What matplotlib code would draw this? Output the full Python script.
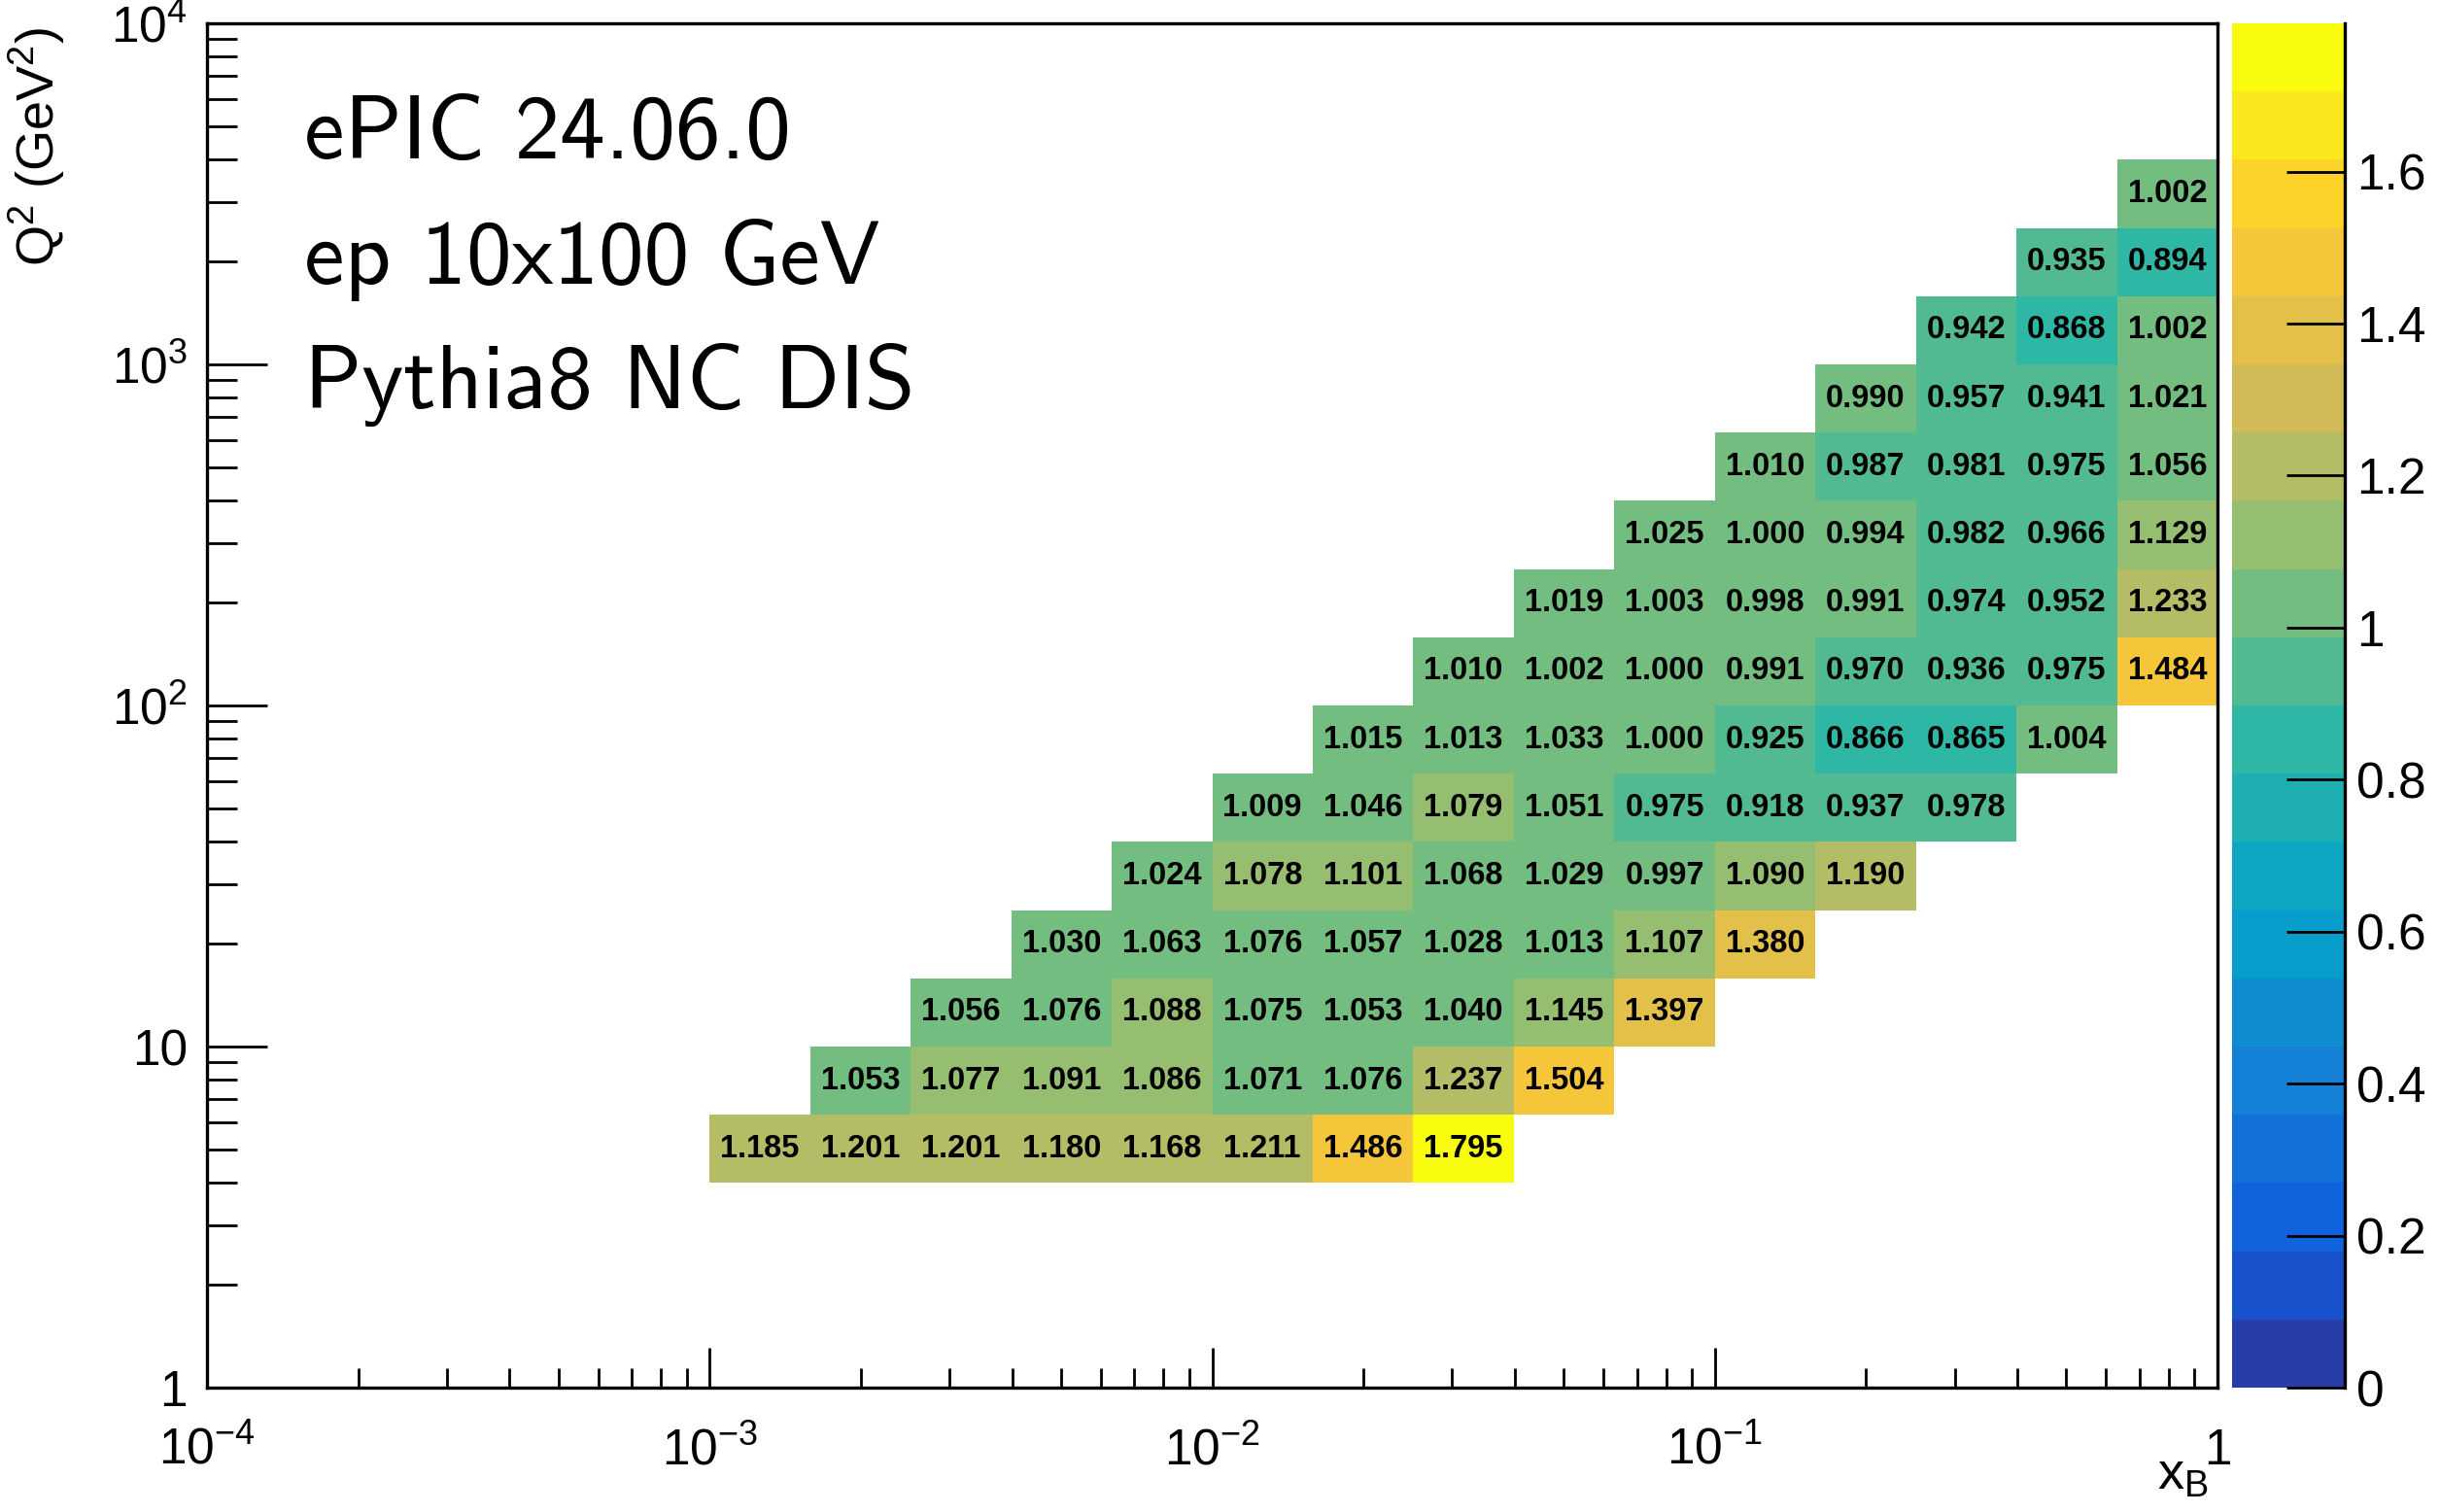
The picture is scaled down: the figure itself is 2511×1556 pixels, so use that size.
import numpy as np
import matplotlib
matplotlib.use("Agg")
import matplotlib.pyplot as plt
from matplotlib.colors import ListedColormap, BoundaryNorm
from matplotlib.ticker import LogLocator, FuncFormatter, NullFormatter

plt.rcParams["font.family"] = ["Liberation Sans", "DejaVu Sans"]
plt.rcParams["mathtext.fontset"] = "custom"
plt.rcParams["mathtext.rm"] = "Liberation Sans"
plt.rcParams["mathtext.it"] = "Liberation Sans:italic"
plt.rcParams["mathtext.bf"] = "Liberation Sans:bold"
plt.rcParams["mathtext.default"] = "regular"

# 5 log bins per decade in x_B and Q2
x_edges = 10 ** np.linspace(-4, 0, 21)
q2_edges = 10 ** np.linspace(0, 4, 21)

# Q2 bin of each filled row, and x bin of its first filled cell
q2_bin = [3, 4, 5, 6, 7, 8, 9, 10, 11, 12, 13, 14, 15, 16, 17]
x_first_bin = [5, 6, 7, 8, 9, 10, 11, 12, 13, 14, 15, 16, 17, 18, 19]

row_03 = [1.185, 1.201, 1.201, 1.180, 1.168, 1.211, 1.486, 1.795]
row_04 = [1.053, 1.077, 1.091, 1.086, 1.071, 1.076, 1.237, 1.504]
row_05 = [1.056, 1.076, 1.088, 1.075, 1.053, 1.040, 1.145, 1.397]
row_06 = [1.030, 1.063, 1.076, 1.057, 1.028, 1.013, 1.107, 1.380]
row_07 = [1.024, 1.078, 1.101, 1.068, 1.029, 0.997, 1.090, 1.190]
row_08 = [1.009, 1.046, 1.079, 1.051, 0.975, 0.918, 0.937, 0.978]
row_09 = [1.015, 1.013, 1.033, 1.000, 0.925, 0.866, 0.865, 1.004]
row_10 = [1.010, 1.002, 1.000, 0.991, 0.970, 0.936, 0.975, 1.484]
row_11 = [1.019, 1.003, 0.998, 0.991, 0.974, 0.952, 1.233]
row_12 = [1.025, 1.000, 0.994, 0.982, 0.966, 1.129]
row_13 = [1.010, 0.987, 0.981, 0.975, 1.056]
row_14 = [0.990, 0.957, 0.941, 1.021]
row_15 = [0.942, 0.868, 1.002]
row_16 = [0.935, 0.894]
row_17 = [1.002]
ratio_rows = [row_03, row_04, row_05, row_06, row_07, row_08, row_09, row_10,
              row_11, row_12, row_13, row_14, row_15, row_16, row_17]

colorbar_ticks = [0, 0.2, 0.4, 0.6, 0.8, 1.0, 1.2, 1.4, 1.6]

# ROOT kBird palette
bird_stops = [0.0, 0.125, 0.25, 0.375, 0.5, 0.625, 0.75, 0.875, 1.0]
bird_r = [0.2082, 0.0592, 0.0780, 0.0232, 0.1802, 0.5301, 0.8186, 0.9956, 0.9764]
bird_g = [0.1664, 0.3599, 0.5041, 0.6419, 0.7178, 0.7492, 0.7328, 0.7862, 0.9832]
bird_b = [0.5293, 0.8684, 0.8385, 0.7914, 0.6425, 0.4662, 0.3499, 0.1968, 0.0539]

frac = np.arange(255) / 254
palette = np.column_stack([np.interp(frac, bird_stops, c) for c in (bird_r, bird_g, bird_b)])
n_levels = 20
level_colors = palette[[int((i + 0.99) * 255 / n_levels) for i in range(n_levels)]]
cmap = ListedColormap(level_colors)
cmap.set_over(level_colors[-1])

Z = np.full((len(q2_edges) - 1, len(x_edges) - 1), np.nan)
for qb, xb, vals in zip(q2_bin, x_first_bin, ratio_rows):
    Z[qb, xb:xb + len(vals)] = vals

zmax = np.nanmax(Z)
levels = np.linspace(0, zmax, n_levels + 1)
norm = BoundaryNorm(levels, n_levels)

fig = plt.figure(figsize=(25.11, 15.56), dpi=100)
ax = fig.add_axes([0.08483, 0.08226, 0.82397, 0.90231])
cax = fig.add_axes([0.91477, 0.08226, 0.04620, 0.90231])

mesh = ax.pcolormesh(x_edges, q2_edges, np.ma.masked_invalid(Z), cmap=cmap, norm=norm,
                     edgecolors="none", antialiased=False)

x_cent = np.sqrt(x_edges[:-1] * x_edges[1:])
q2_cent = np.sqrt(q2_edges[:-1] * q2_edges[1:])
for i in range(Z.shape[0]):
    for j in range(Z.shape[1]):
        if not np.isnan(Z[i, j]):
            ax.text(x_cent[j], q2_cent[i], f"{Z[i, j]:.3f}", ha="center", va="center",
                    fontsize=23.5, fontweight="bold", color="black")

ax.set_xscale("log")
ax.set_yscale("log")
ax.set_xlim(x_edges[0], x_edges[-1])
ax.set_ylim(q2_edges[0], q2_edges[-1])


def log_label(v, pos):
    n = int(round(np.log10(v)))
    if n == 0:
        return "1"
    if n == 1:
        return "10"
    return f"$10^{{{n}}}$"


ax.xaxis.set_major_locator(LogLocator(base=10, numticks=10))
ax.yaxis.set_major_locator(LogLocator(base=10, numticks=10))
ax.xaxis.set_minor_locator(LogLocator(base=10, subs=np.arange(2, 10), numticks=20))
ax.yaxis.set_minor_locator(LogLocator(base=10, subs=np.arange(2, 10), numticks=20))
ax.xaxis.set_major_formatter(FuncFormatter(log_label))
ax.yaxis.set_major_formatter(FuncFormatter(log_label))
ax.xaxis.set_minor_formatter(NullFormatter())
ax.yaxis.set_minor_formatter(NullFormatter())

ax.tick_params(axis="both", which="both", direction="in", top=False, right=False,
               labelsize=37, width=2.0)
ax.tick_params(axis="y", which="major", length=44.6, pad=14.4)
ax.tick_params(axis="y", which="minor", length=22.3)
ax.tick_params(axis="x", which="major", length=29.5, pad=57)
ax.tick_params(axis="x", which="minor", length=14.4)
for spine in ax.spines.values():
    spine.set_linewidth(2.4)

fig.canvas.draw()
for lbl in ax.get_xticklabels():
    lbl.set_verticalalignment("baseline")

ax.set_xlabel("x$_{B}$", fontsize=39, loc="right", va="baseline")
ax.xaxis.set_label_coords(0.9955, -0.0742)
ax.set_ylabel("Q$^{2}$ (GeV$^{2}$)", fontsize=39, loc="top")
ax.yaxis.set_label_coords(-0.0696, 0.997)

cbar = fig.colorbar(mesh, cax=cax)
cbar.outline.set_visible(False)
cax.spines["right"].set_visible(True)
cax.spines["right"].set_linewidth(2.4)
cbar.set_ticks(colorbar_ticks)
cbar.minorticks_off()
cax.yaxis.set_major_formatter(FuncFormatter(lambda v, pos: f"{v:g}"))
cax.tick_params(axis="y", direction="in", length=43, width=2.0, labelsize=37, pad=8.6)

fig.text(0.1247, 0.8952, "ePIC 24.06.0", family="cmss10", fontsize=67, va="baseline")
fig.text(0.1247, 0.8123, "ep 10x100 GeV", family="cmss10", fontsize=67, va="baseline")
fig.text(0.1247, 0.7301, "Pythia8 NC DIS", family="cmss10", fontsize=67, va="baseline")

fig.savefig("out.png", dpi=100)
